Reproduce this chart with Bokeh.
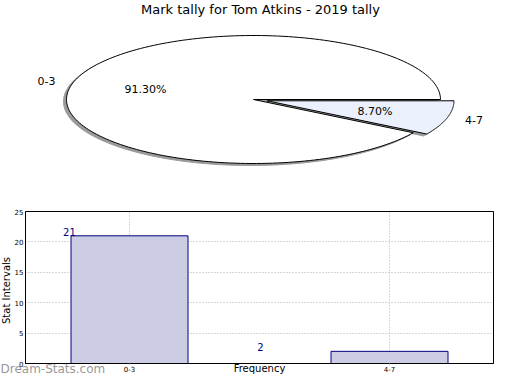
import numpy as np
from bokeh.plotting import figure
from bokeh.layouts import column
from bokeh.models import Range1d, FixedTicker, Label
from bokeh.embed import file_html
from bokeh.resources import INLINE

# ---- data ----
categories = ["0-3", "4-7"]
counts = [21, 2]
title_text = "Mark tally for Tom Atkins - 2019 tally"
y_ticks = [0, 5, 10, 15, 20, 25]
y_label = "Stat Intervals"
x_label = "Frequency"
watermark = "Dream-Stats.com"

# ---- layout / style ----
FONT = "DejaVu Sans"
W = 504
TOTAL_H = 374
PIE_H = 195
BAR_H = TOTAL_H - PIE_H
frame_left, frame_right = 25, 493
frame_top, frame_bottom = 211, 364
cx, cy, rx, ry = 253.0, 99.0, 187.0, 64.0
explode = [0.0, 14.0]
slice_fill = ["#ffffff", "#eaf0fc"]
shadow_dx, shadow_dy = -3.0, 2.0

# ---------------- pie ----------------
# (plot frames inside a column are aligned, so the pie frame spans frame_left..frame_right)
pie = figure(width=W, height=PIE_H, x_range=Range1d(frame_left, frame_right),
             y_range=Range1d(PIE_H, 0), x_axis_type=None, y_axis_type=None,
             output_backend="svg", toolbar_location=None, min_border=0,
             min_border_left=frame_left, min_border_right=W - frame_right)
pie.grid.visible = False
pie.outline_line_color = None

vals = np.array(counts, dtype=float)
fracs = vals / vals.sum()
starts = np.concatenate([[0.0], np.cumsum(fracs)[:-1]]) * 2 * np.pi
ends = np.cumsum(fracs) * 2 * np.pi

def slice_poly(a0, a1, ox, oy):
    t = np.linspace(a0, a1, 200)
    xs = np.concatenate([[ox], ox + rx * np.cos(t), [ox]])
    ys = np.concatenate([[oy], oy - ry * np.sin(t), [oy]])
    return xs.tolist(), ys.tolist()

polys = []
for i in range(len(counts)):
    mid = (starts[i] + ends[i]) / 2
    ox = cx + explode[i] * np.cos(mid)
    oy = cy - explode[i] * np.sin(mid) * ry / rx
    polys.append((slice_poly(starts[i], ends[i], ox, oy), ox, oy, mid))

for (xs, ys), ox, oy, mid in polys:
    pie.patch([x + shadow_dx for x in xs], [y + shadow_dy for y in ys],
              fill_color="#9a9a9a", line_color="#9a9a9a", line_width=1)
for i, ((xs, ys), ox, oy, mid) in enumerate(polys):
    pie.patch(xs, ys, fill_color=slice_fill[i], line_color="#000000", line_width=1)

for i, ((xs, ys), ox, oy, mid) in enumerate(polys):
    px = ox + 0.6 * rx * np.cos(mid)
    py = oy - 0.6 * ry * np.sin(mid)
    pie.add_layout(Label(x=px, y=py, text=f"{fracs[i]*100:.2f}%", text_font=FONT,
                         text_font_size="11px", text_align="center", text_baseline="middle",
                         text_color="#000000"))
    lx = ox + 1.1 * rx * np.cos(mid)
    ly = oy - 1.1 * ry * np.sin(mid)
    pie.add_layout(Label(x=lx, y=ly, text=categories[i], text_font=FONT,
                         text_font_size="11px",
                         text_align="right" if np.cos(mid) < 0 else "left",
                         text_baseline="middle", text_color="#000000"))

pie.add_layout(Label(x=260, y=9, text=title_text, text_font=FONT, text_font_size="13px",
                     text_align="center", text_baseline="middle", text_color="#000000"))

# ---------------- bars ----------------
px_per_cat = 260.0
c0 = 129.0
xr = Range1d(-(c0 - frame_left) / px_per_cat, (frame_right - c0) / px_per_cat)
bar = figure(width=W, height=BAR_H, x_range=xr, y_range=Range1d(0, 25),
             output_backend="svg", toolbar_location=None,
             min_border_left=frame_left, min_border_right=W - frame_right,
             min_border_top=frame_top - PIE_H, min_border_bottom=TOTAL_H - frame_bottom)
bar.outline_line_color = "#000000"
bar.outline_line_width = 1
bar.background_fill_color = "#ffffff"

idx = list(range(len(categories)))
bar.vbar(x=idx, top=counts, width=0.45, bottom=0, fill_color="#ccccE4",
         line_color="#000080", line_width=1)

bar.xaxis.ticker = FixedTicker(ticks=idx)
bar.xaxis.major_label_overrides = {i: c for i, c in enumerate(categories)}
bar.yaxis.ticker = FixedTicker(ticks=y_ticks)
for ax in (bar.xaxis[0], bar.yaxis[0]):
    ax.major_label_text_font = FONT
    ax.major_label_text_font_size = "7px"
    ax.major_label_text_color = "#000000"
    ax.axis_line_color = "#000000"
    ax.major_tick_line_color = "#aaaaaa"
    ax.major_tick_in = 0
    ax.major_tick_out = 1
    ax.minor_tick_line_color = None
    ax.major_label_standoff = 1
bar.yaxis.major_tick_out = 0
bar.yaxis.major_label_standoff = 2

bar.xgrid.grid_line_color = "#b0b0b0"
bar.xgrid.grid_line_dash = "1 2"
bar.ygrid.grid_line_color = "#b0b0b0"
bar.ygrid.grid_line_dash = "1 2"

value_label_x = [-0.231, 0.504]
for i, v in enumerate(counts):
    bar.add_layout(Label(x=value_label_x[i], y=v, text=str(v), text_font=FONT,
                         text_font_size="10px", text_align="center", text_baseline="bottom",
                         text_color="#000080"))

# ---------------- transparent overlay for texts outside the plot frame ----------------
over = figure(width=W, height=BAR_H, x_range=Range1d(0, W), y_range=Range1d(TOTAL_H, PIE_H),
              x_axis_type=None, y_axis_type=None, output_backend="svg",
              toolbar_location=None, min_border=0)
over.grid.visible = False
over.outline_line_color = None
over.background_fill_alpha = 0
over.border_fill_alpha = 0
over.add_layout(Label(x=6, y=290, text=y_label, text_font=FONT, text_font_size="10px",
                      text_align="center", text_baseline="middle", angle=np.pi / 2,
                      text_color="#000000"))
over.add_layout(Label(x=259, y=368, text=x_label, text_font=FONT, text_font_size="10px",
                      text_align="center", text_baseline="middle", text_color="#000000"))
over.add_layout(Label(x=0, y=368, text=watermark, text_font=FONT, text_font_size="12px",
                      text_align="left", text_baseline="middle", text_color="#999999"))

layout = column(pie, bar, column(over, margin=(-BAR_H, 0, 0, 0)), spacing=0)
open("out.html", "w").write(file_html(layout, INLINE))
